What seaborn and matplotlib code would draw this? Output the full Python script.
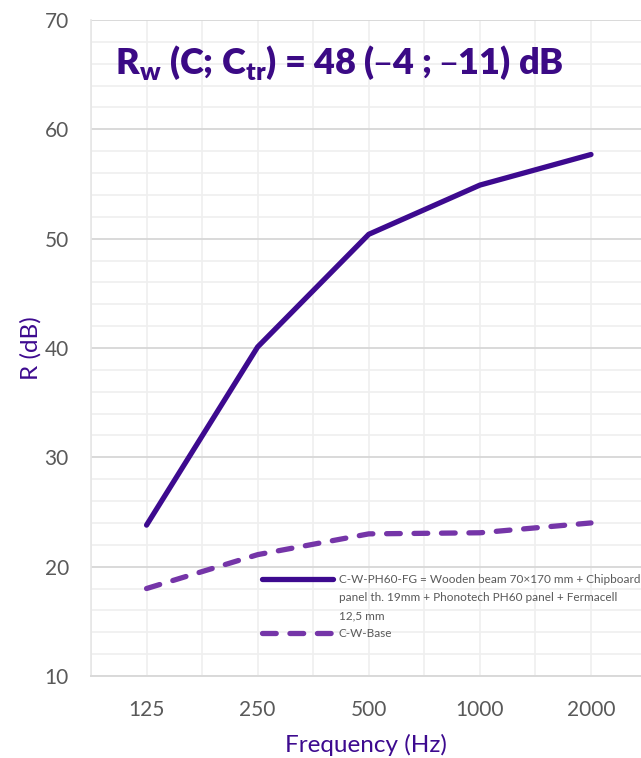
import matplotlib
matplotlib.use("Agg")
import matplotlib.pyplot as plt
from matplotlib.ticker import MultipleLocator
from matplotlib.lines import Line2D
import seaborn as sns
import pandas as pd

frequencies = ["125", "250", "500", "1000", "2000"]
ph60_values = [23.8, 40.1, 50.4, 54.9, 57.7]
base_values = [18.0, 21.1, 23.0, 23.1, 24.0]
label_ph60_lines = ["C-W-PH60-FG = Wooden beam 70\u00d7170 mm + Chipboard",
                    "panel th. 19mm + Phonotech PH60 panel + Fermacell",
                    "12,5 mm"]
label_ph60 = "\n".join(label_ph60_lines)
label_base = "C-W-Base"

sns.set_theme(style="white")
plt.rcParams['font.family'] = ['Lato', 'DejaVu Sans']

df = pd.DataFrame({
    "Frequency": frequencies * 2,
    "R": ph60_values + base_values,
    "Series": [label_ph60] * 5 + [label_base] * 5,
})

fig = plt.figure(figsize=(6.41, 7.58), dpi=100)
ax = fig.add_axes([91/641, 82/758, 1 - 91/641, 656/758])

c_solid = "#3d0a8f"
c_dash = "#7535a8"
sns.lineplot(data=df, x="Frequency", y="R", hue="Series", style="Series",
             palette={label_ph60: c_solid, label_base: c_dash},
             dashes={label_ph60: "", label_base: (2.6, 2.6)},
             linewidth=3.8, ax=ax, sort=False, legend=False)
for ln in ax.get_lines():
    ln.set_solid_capstyle("round")
    ln.set_dash_capstyle("round")

ax.set_ylim(10, 70)
ax.set_xlim(-0.5, 4.45)
ax.yaxis.set_major_locator(MultipleLocator(10))
ax.yaxis.set_minor_locator(MultipleLocator(2))
ax.xaxis.set_minor_locator(MultipleLocator(0.5))
ax.grid(which="minor", axis="both", color="#efefef", linewidth=1.2)
ax.grid(which="major", axis="y", color="#d9d9d9", linewidth=1.4)
ax.grid(which="major", axis="x", color="#efefef", linewidth=1.2)
ax.set_axisbelow(True)
for s in ["top", "right"]:
    ax.spines[s].set_visible(False)
ax.spines["left"].set_color("#e6e6e6")
ax.spines["bottom"].set_color("#d9d9d9")
ax.spines["left"].set_linewidth(1.2)
ax.spines["bottom"].set_linewidth(1.4)

ax.tick_params(axis="both", which="both", length=0, labelsize=15, labelcolor="#595959")
ax.tick_params(axis="y", pad=16)
ax.tick_params(axis="x", pad=17)

ax.set_xlabel("Frequency (Hz)", fontsize=17.5, color=c_solid, labelpad=10)
ax.set_ylabel("R (dB)", fontsize=17.5, color=c_solid, labelpad=2)

ax.text(0.451, 0.935,
        "R$_\\mathregular{w}$ (C; C$_\\mathregular{tr}$) = 48 (\u20134 ; \u201311) dB",
        transform=ax.transAxes, ha="center", va="center", fontsize=26,
        fontweight="heavy", color="#3b0a85", family=["Lato", "DejaVu Sans"])

# legend: first line of the long label carries the handle, continuation lines carry blank handles
blank = Line2D([], [], color="none")
h_solid = Line2D([], [], color=c_solid, linewidth=3.8, solid_capstyle="round")
h_dash = Line2D([], [], color=c_dash, linewidth=3.8, dashes=(2.6, 2.6), dash_capstyle="round")
handles = [h_solid, blank, blank, h_dash]
labels = label_ph60_lines + [label_base]
leg = ax.legend(handles, labels, loc="upper left", bbox_to_anchor=(262/641, 1 - 574/758),
                bbox_transform=fig.transFigure, frameon=False, fontsize=8.5,
                handlelength=6.0, handletextpad=0.5, labelspacing=0.6, borderpad=0,
                borderaxespad=0)
for t in leg.get_texts():
    t.set_color("#595959")

fig.savefig("out.png", dpi=100)
